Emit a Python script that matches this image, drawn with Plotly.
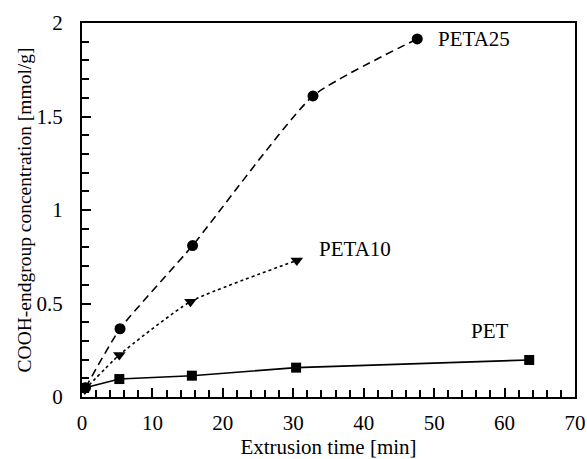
import plotly.graph_objects as go

# Data
peta25_x = [0.5, 5.4, 15.7, 32.8, 47.6]
peta25_y = [0.05, 0.365, 0.81, 1.61, 1.915]

peta10_x = [0.4, 5.3, 15.4, 30.5]
peta10_y = [0.04, 0.225, 0.51, 0.73]

pet_x = [0.3, 5.3, 15.6, 30.4, 63.5]
pet_y = [0.048, 0.096, 0.114, 0.157, 0.198]

labels = ["PETA25", "PETA10", "PET"]
label_x = [50.2, 33.4, 58.0]
label_y = [1.915, 0.79, 0.355]

FONT = "Liberation Serif, Times New Roman, serif"
FS = 21

fig = go.Figure()
fig.add_trace(go.Scatter(
    x=peta25_x, y=peta25_y, mode="lines+markers", name="PETA25",
    line=dict(color="black", width=1.6, dash="8px,5px", shape="spline", smoothing=0.5),
    marker=dict(symbol="circle", size=11, color="black"),
))
fig.add_trace(go.Scatter(
    x=peta10_x, y=peta10_y, mode="lines+markers", name="PETA10",
    line=dict(color="black", width=1.6, dash="3px,3px", shape="spline", smoothing=0.5),
    marker=dict(symbol="triangle-down", size=11, color="black"),
))
fig.add_trace(go.Scatter(
    x=pet_x, y=pet_y, mode="lines+markers", name="PET",
    line=dict(color="black", width=1.6),
    marker=dict(symbol="square", size=10, color="black"),
))

for t, xx, yy in zip(labels, label_x, label_y):
    xanchor = "center" if t == "PET" else "left"
    fig.add_annotation(x=xx, y=yy, text=t, showarrow=False, xanchor=xanchor,
                       yanchor="middle", font=dict(family=FONT, size=FS, color="black"))

axis_common = dict(
    showgrid=False, zeroline=False, showline=True, linecolor="black", linewidth=2,
    mirror=True, ticks="inside", ticklen=9, tickwidth=1.5, tickcolor="black",
    tickfont=dict(family=FONT, size=FS, color="black"), automargin=False,
)
fig.update_xaxes(range=[0, 70], dtick=10, tick0=0, ticklabelstandoff=6,
                 minor=dict(dtick=2, ticks="inside", ticklen=7, tickwidth=1.5, tickcolor="black"),
                 title=dict(text="Extrusion time [min]", font=dict(family=FONT, size=FS, color="black"), standoff=0),
                 **axis_common)
fig.update_yaxes(range=[0, 2], dtick=0.5, tick0=0, ticklabelstandoff=13,
                 minor=dict(dtick=0.1, ticks="inside", ticklen=7, tickwidth=1.5, tickcolor="black"),
                 title=dict(text="COOH-endgroup concentration [mmol/g]", font=dict(family=FONT, size=19.5, color="black"), standoff=0),
                 **axis_common)

fig.update_layout(
    width=587, height=459,
    margin=dict(l=82, r=12, t=23, b=62),
    paper_bgcolor="white", plot_bgcolor="white",
    font=dict(family=FONT, color="black"),
    showlegend=False,
)

fig.write_html("out.html", config={"displayModeBar": False},
               post_script="document.body.style.margin='0';")
